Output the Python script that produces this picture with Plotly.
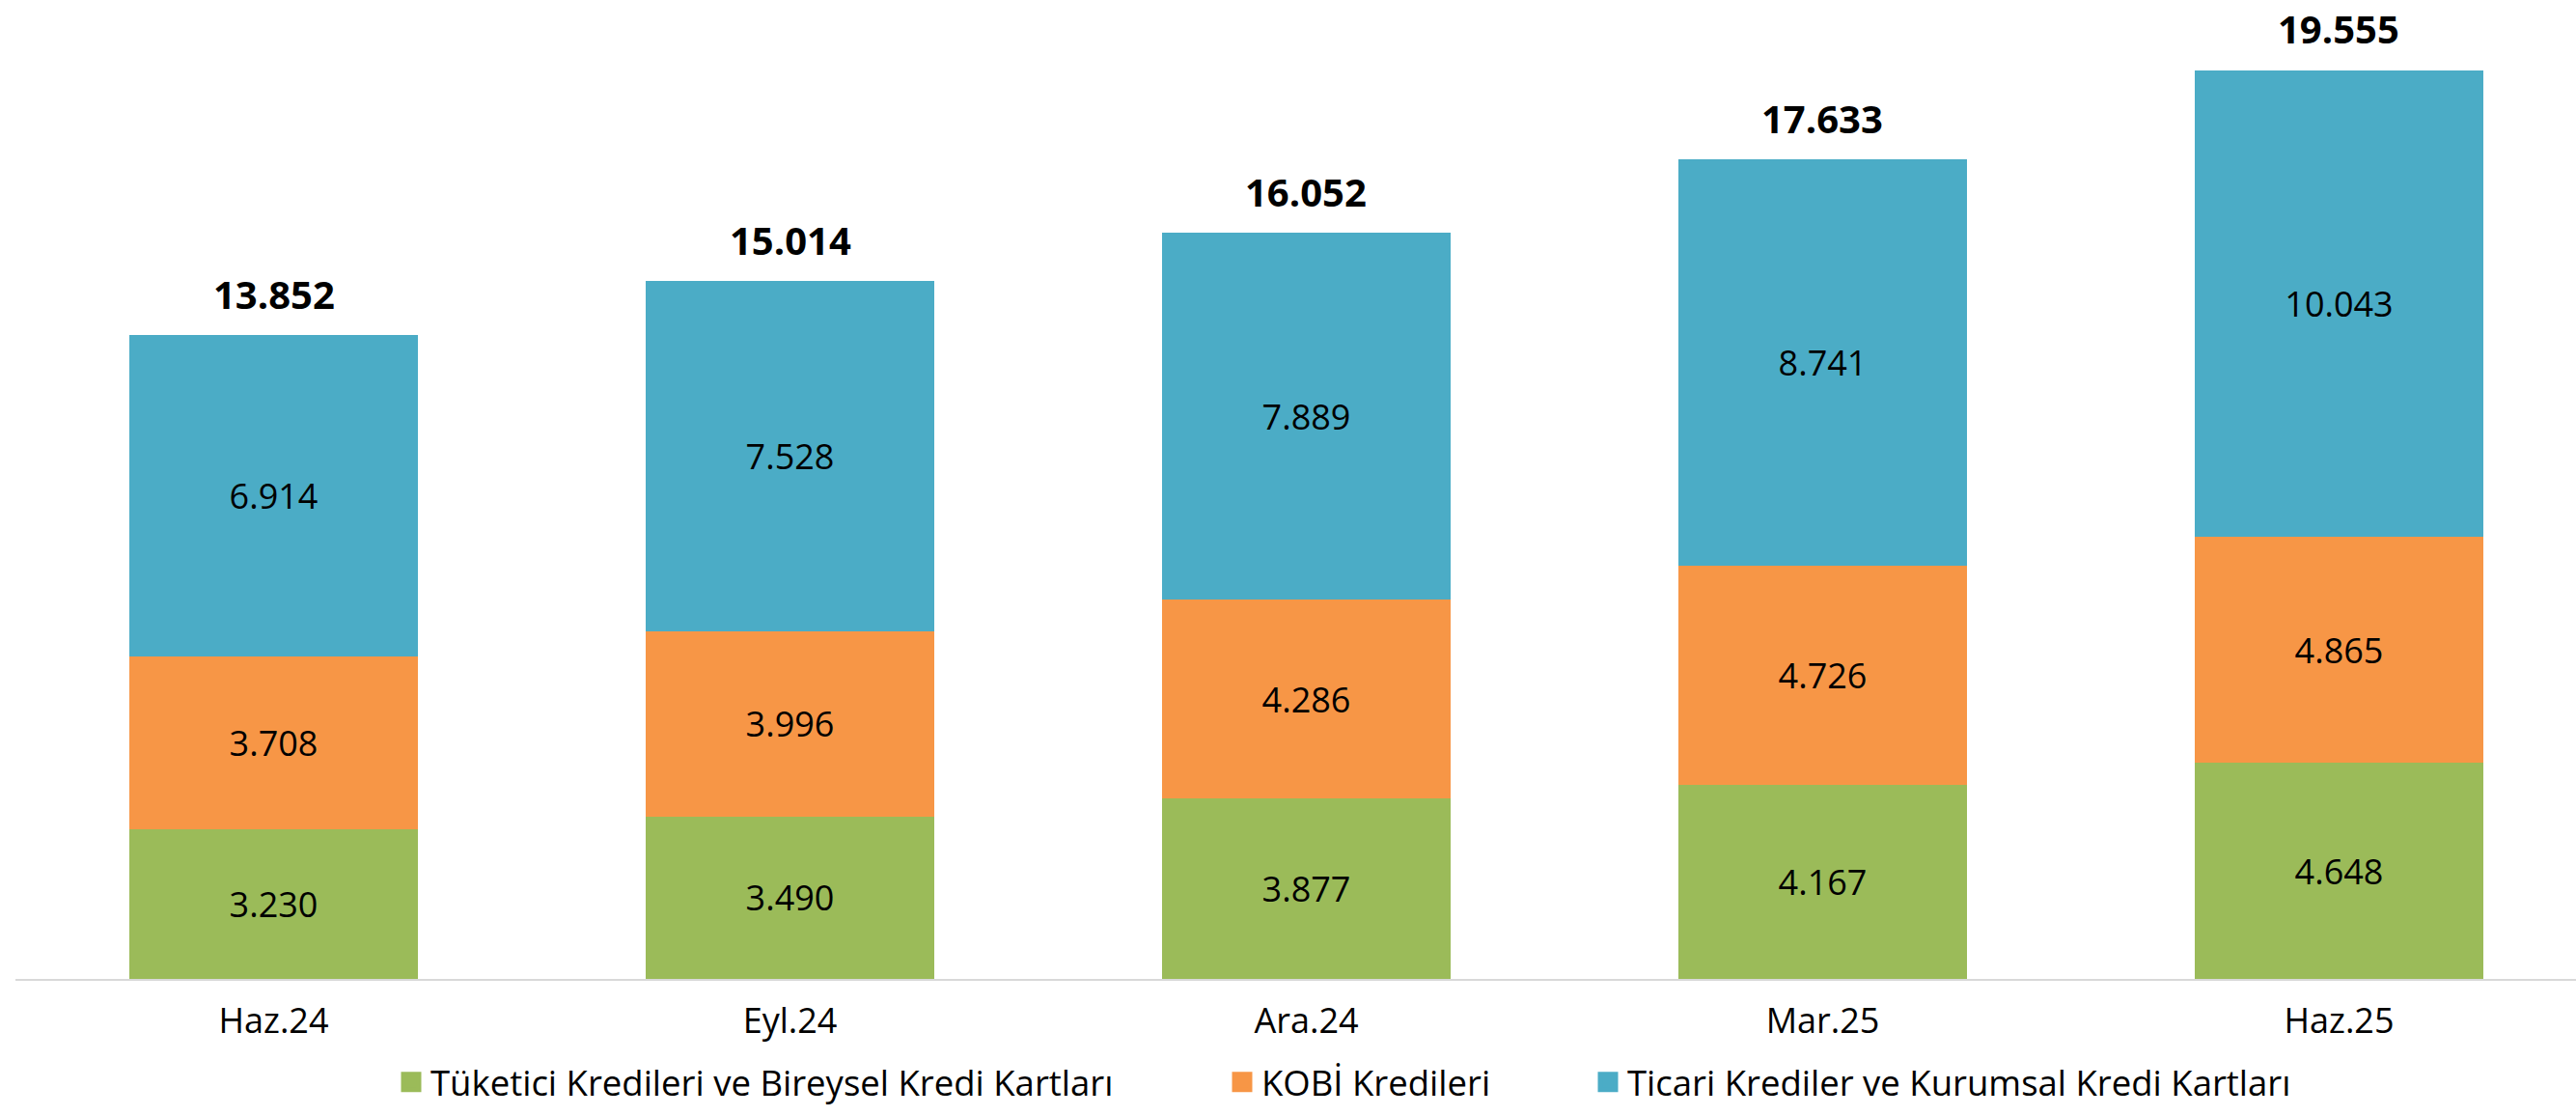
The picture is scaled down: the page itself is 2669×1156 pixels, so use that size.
import plotly.graph_objects as go

categories = ["Haz.24", "Eyl.24", "Ara.24", "Mar.25", "Haz.25"]
tuketici = [3230, 3490, 3877, 4167, 4648]
kobi = [3708, 3996, 4286, 4726, 4865]
ticari = [6914, 7528, 7889, 8741, 10043]
totals = [13852, 15014, 16052, 17633, 19555]

series_names = [
    "Tüketici Kredileri ve Bireysel Kredi Kartları",
    "KOBİ Kredileri",
    "Ticari Krediler ve Kurumsal Kredi Kartları",
]
colors = ["#9BBB59", "#F79646", "#4BACC6"]

FONT = "Open Sans"
W, H = 2669, 1156
AXIS_Y = 1014                # plot-area bottom in figure px
ML, MR, MT, MB = 16, 0, 0, H - AXIS_Y
PW = W - ML - MR
PH = H - MT - MB

fig = go.Figure()
legend_ids = ["legend", "legend2", "legend3"]
for name, vals, col in zip(series_names, [tuketici, kobi, ticari], colors):
    fig.add_trace(go.Bar(
        x=categories, y=vals, name=name, marker=dict(color=col, line=dict(width=0)),
        texttemplate="%{y:,.0f}", textposition="inside", insidetextanchor="middle",
        textangle=0, constraintext="none",
        textfont=dict(family=FONT, size=36, color="#000000"),
        showlegend=False, hoverinfo="skip",
    ))

# legend-only entries (square swatches)
for name, col, lg in zip(series_names, colors, legend_ids):
    fig.add_trace(go.Scatter(
        x=[None], y=[None], name=name, mode="markers",
        marker=dict(symbol="square", size=16, color=col, line=dict(color=col, width=8)),
        legend=lg, showlegend=True, hoverinfo="skip",
    ))

for c, t in zip(categories, totals):
    fig.add_annotation(
        x=c, y=t, xref="x", yref="y",
        text="<b>" + f"{t:,}".replace(",", ".") + "</b>",
        showarrow=False, yanchor="middle", yshift=43,
        font=dict(family=FONT, size=40, color="#000000"),
    )

def px_to_paper_x(px):
    return (px - ML) / PW

leg_common = dict(
    orientation="h", yanchor="middle", y=(AXIS_Y - 1121) / PH,
    xanchor="left", bgcolor="rgba(0,0,0,0)", borderwidth=0, itemsizing="trace",
    font=dict(family=FONT, size=36.5, color="#000000"),
)
text_starts = [443, 1304, 1683]
layout_legends = {}
for lg, ts in zip(legend_ids, text_starts):
    layout_legends[lg] = dict(leg_common, x=px_to_paper_x(ts - 40 + 3))

fig.update_layout(
    width=W, height=H,
    margin=dict(l=ML, r=MR, t=MT, b=MB),
    barmode="stack", bargap=0.441,
    plot_bgcolor="#FFFFFF", paper_bgcolor="#FFFFFF",
    separators=",.",
    font=dict(family=FONT, size=36, color="#000000"),
    showlegend=True,
    hovermode=False,
    xaxis=dict(
        type="category", range=[-0.5, 4.4589], showgrid=False, zeroline=False,
        showline=True, linecolor="#D9D9D9", linewidth=2, ticks="",
        ticklabelstandoff=11,
        tickfont=dict(family=FONT, size=36, color="#000000"),
        fixedrange=True,
    ),
    yaxis=dict(
        range=[0, PH / 0.04814], visible=False, showgrid=False, zeroline=False,
        fixedrange=True,
    ),
    **layout_legends,
)

fig.write_html(
    "out.html",
    config={"displayModeBar": False},
    post_script="document.body.style.margin='0';document.body.style.overflow='hidden';",
)
